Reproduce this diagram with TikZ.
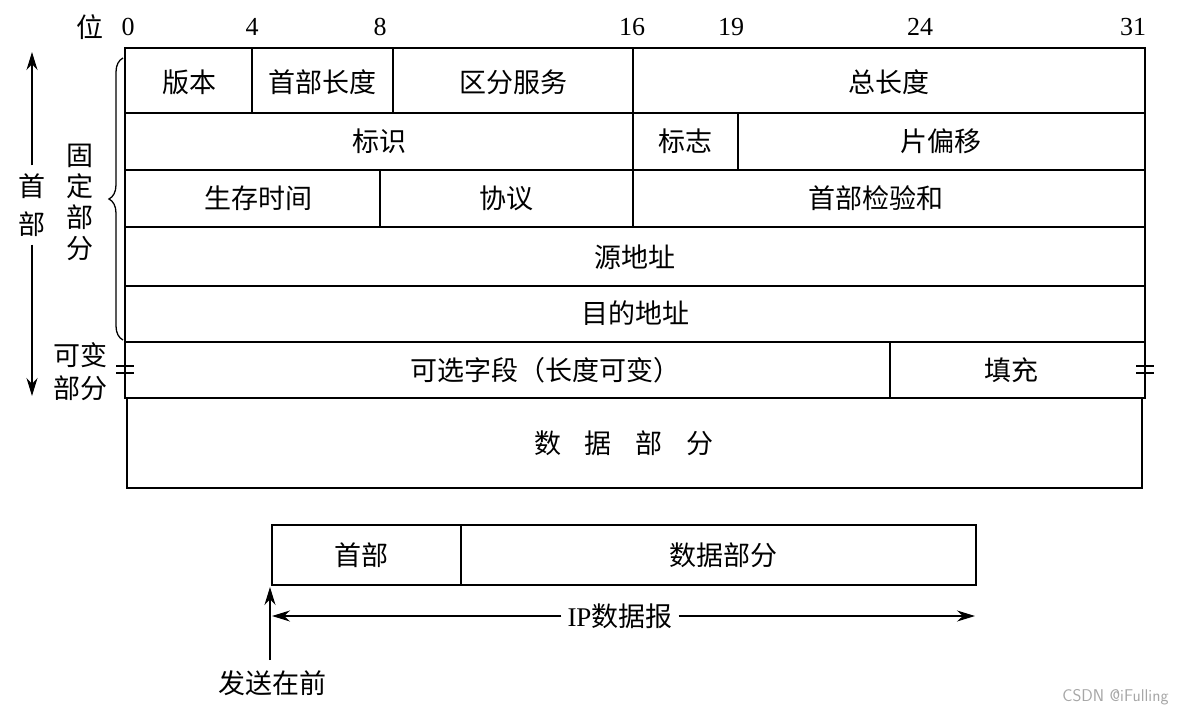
\documentclass[tikz,border=0pt]{standalone}
\usepackage{fontspec}
\setmainfont{Liberation Serif}
\newfontfamily\cjk{Noto Sans CJK SC}
\usetikzlibrary{decorations.pathreplacing,arrows.meta}
\begin{document}
\begin{tikzpicture}[x=1pt,y=-1pt,
  txt/.style={font=\cjk\fontsize{27}{30}\selectfont,inner sep=0pt},
  num/.style={font=\fontsize{26}{28}\selectfont,inner sep=0pt},
  cell/.style={draw,line width=1.5pt},
  frame/.style={draw,line width=2.6pt},
  arr/.style={-{Stealth[length=18pt,width=11pt]},line width=1.5pt}]
\useasboundingbox (0,0) rectangle (1178,720);
% bit numbers
\node[txt] (wei) at (90,27) {位};
\foreach \x/\n in {128/0,252/4,380/8,632/16,731/19,920/24,1133/31}
  \node[num] (b\n) at (\x,27) {\n};
% cells
\draw[cell] (252,48)--(252,113) (393,48)--(393,113) (633,48)--(633,227);
\draw[cell] (738,113)--(738,170) (380,170)--(380,227) (890,342)--(890,398);
\foreach \y in {113,170,227,286,342} \draw[cell] (125,\y)--(1145,\y);
\draw[frame] (125,48) rectangle (1145,398);
\node[txt] (r1a) at (189,82) {版本};
\node[txt] (r1b) at (322,82) {首部长度};
\node[txt] (r1c) at (513,82) {区分服务};
\node[txt] (r1d) at (889,82) {总长度};
\node[txt] (r2a) at (379,141) {标识};
\node[txt] (r2b) at (685,141) {标志};
\node[txt] (r2c) at (941,141) {片偏移};
\node[txt] (r3a) at (258,198) {生存时间};
\node[txt] (r3b) at (506,198) {协议};
\node[txt] (r3c) at (876,198) {首部检验和};
\node[txt] (r4) at (635,257) {源地址};
\node[txt] (r5) at (635,313) {目的地址};
\node[txt] (r6a) at (545,370) {可选字段（长度可变）};
\node[txt] (r6b) at (1011,370) {填充};
% break marks
\draw[line width=1.3pt] (116,366)--(134,366) (116,373)--(134,373)
  (1136,366)--(1154,366) (1136,373)--(1154,373);
% data box
\draw[cell] (127,398) rectangle (1142,488);
\node[txt] (data) at (624,443) {数\hspace{24pt}据\hspace{24pt}部\hspace{24pt}分};
% brace and left labels
\draw[line width=1.3pt,decorate,decoration={brace,amplitude=14pt}] (123,340)--(123,58);
\node[txt,align=center,font=\cjk\fontsize{27}{31}\selectfont] (gd) at (80,202) {固\\定\\部\\分};
\node[txt,align=center,font=\cjk\fontsize{27}{33}\selectfont] (kb) at (80,372) {可变\\部分};
\node[txt,align=center,font=\cjk\fontsize{27}{38}\selectfont] (sb) at (32,205) {首\\部};
\coordinate (top) at (32,52); \coordinate (bot) at (32,396);
\draw[arr] (sb.north)++(0,-8) -- (top);
\draw[arr] (sb.south)++(0,8) -- (bot);
% bottom diagram
\draw[cell] (272,525) rectangle (976,585);
\draw[frame] (272,525) rectangle (461,585);
\node[txt] (h) at (361,555) {首部};
\node[txt] (d) at (723,555) {数据部分};
\node[txt,fill=white,inner sep=6pt] (ip) at (620,616) {\fontspec{Liberation Serif}IP\cjk 数据报};
\coordinate (al) at (272,616); \coordinate (ar) at (975,616);
\draw[arr] (ip.west) -- (al);
\draw[arr] (ip.east) -- (ar);
\node[txt] (fs) at (272,683) {发送在前};
\coordinate (up) at (270,587);
\draw[arr] (270,660) -- (up);
\node[font=\fontsize{17}{19}\selectfont\sffamily,text=gray!70,anchor=east] (wm) at (1172,697) {CSDN @iFulling};
\end{tikzpicture}
\end{document}
